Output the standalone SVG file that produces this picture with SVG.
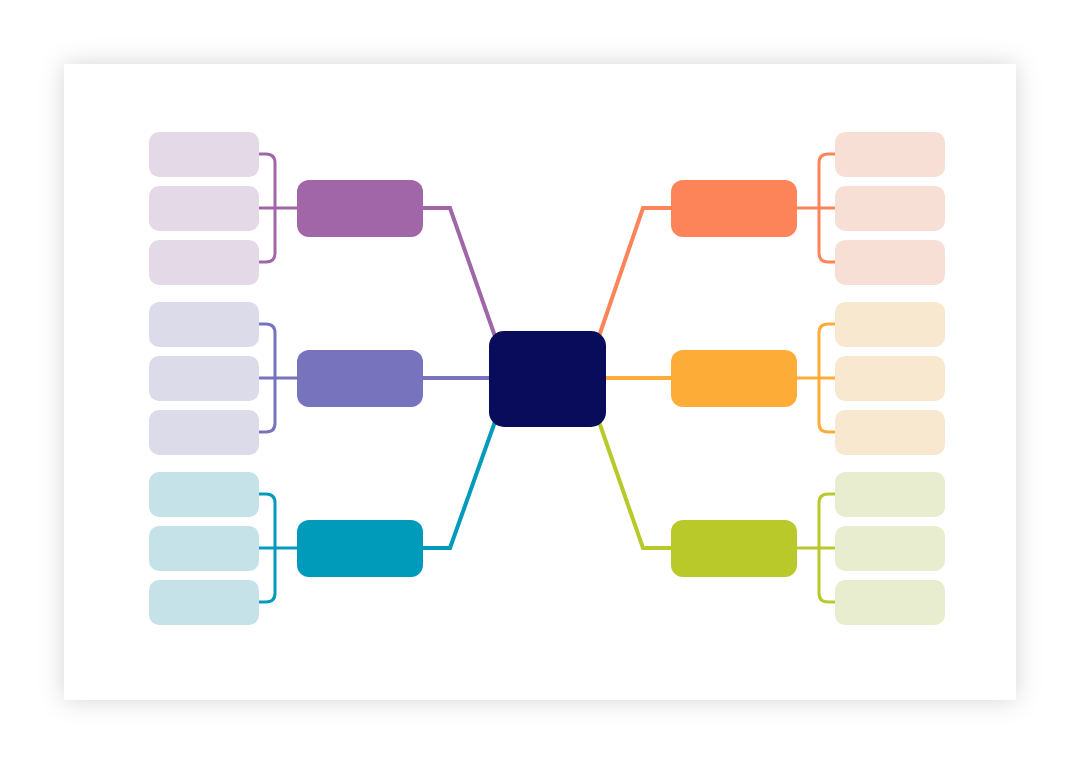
<svg xmlns="http://www.w3.org/2000/svg" width="1080" height="764" viewBox="0 0 1080 764">
  <defs>
    <filter id="shadow" x="-10%" y="-10%" width="120%" height="120%">
      <feDropShadow dx="0" dy="0" stdDeviation="12" flood-color="#000" flood-opacity="0.17"/>
    </filter>
  </defs>
  <style>
    .leaf { rx: 10px; }
    .branch { rx: 12px; }
    .main { fill: none; stroke-width: 4; stroke-linejoin: miter; }
    .brk { fill: none; stroke-width: 3; }
  </style>
  <rect x="0" y="0" width="1080" height="764" fill="#ffffff"/>
  <rect id="card" x="64" y="64" width="952" height="636" fill="#ffffff" filter="url(#shadow)"/>

  <g id="connectors">
    <path class="main" stroke="#A066A8" d="M423,208 H450 L497,342"/>
    <path class="main" stroke="#7773BC" d="M423,378 H492"/>
    <path class="main" stroke="#009BBB" d="M423,548 H450 L497,416"/>
    <path class="main" stroke="#FC8458" d="M672,208 H643 L597,342"/>
    <path class="main" stroke="#FEAC38" d="M672,378 H602"/>
    <path class="main" stroke="#B8C929" d="M672,548 H643 L597,416"/>

    <path class="brk" stroke="#A066A8" d="M257,154 H266 Q275,154 275,163 V253 Q275,262 266,262 H257 M257,208 H299"/>
    <path class="brk" stroke="#7773BC" d="M257,324 H266 Q275,324 275,333 V423 Q275,432 266,432 H257 M257,378 H299"/>
    <path class="brk" stroke="#009BBB" d="M257,494 H266 Q275,494 275,503 V593 Q275,602 266,602 H257 M257,548 H299"/>
    <path class="brk" stroke="#FC8458" d="M837,154 H828 Q819,154 819,163 V253 Q819,262 828,262 H837 M795,208 H837"/>
    <path class="brk" stroke="#FEAC38" d="M837,324 H828 Q819,324 819,333 V423 Q819,432 828,432 H837 M795,378 H837"/>
    <path class="brk" stroke="#B8C929" d="M837,494 H828 Q819,494 819,503 V593 Q819,602 828,602 H837 M795,548 H837"/>
  </g>

  <g id="center"><rect x="489" y="331" width="117" height="96" rx="15" fill="#080C5A"/></g>

  <g id="branch-purple"><rect class="branch" x="297" y="180" width="126" height="57" fill="#A066A8"/></g>
  <g id="branch-violet"><rect class="branch" x="297" y="350" width="126" height="57" fill="#7773BC"/></g>
  <g id="branch-teal"><rect class="branch" x="297" y="520" width="126" height="57" fill="#009BBB"/></g>
  <g id="branch-orange"><rect class="branch" x="671" y="180" width="126" height="57" fill="#FC8458"/></g>
  <g id="branch-amber"><rect class="branch" x="671" y="350" width="126" height="57" fill="#FEAC38"/></g>
  <g id="branch-lime"><rect class="branch" x="671" y="520" width="126" height="57" fill="#B8C929"/></g>

  <g id="leaf-p1"><rect class="leaf" x="149" y="132" width="110" height="45" fill="#E4D9E7"/></g>
  <g id="leaf-p2"><rect class="leaf" x="149" y="186" width="110" height="45" fill="#E4D9E7"/></g>
  <g id="leaf-p3"><rect class="leaf" x="149" y="240" width="110" height="45" fill="#E4D9E7"/></g>
  <g id="leaf-v1"><rect class="leaf" x="149" y="302" width="110" height="45" fill="#DCDBEA"/></g>
  <g id="leaf-v2"><rect class="leaf" x="149" y="356" width="110" height="45" fill="#DCDBEA"/></g>
  <g id="leaf-v3"><rect class="leaf" x="149" y="410" width="110" height="45" fill="#DCDBEA"/></g>
  <g id="leaf-t1"><rect class="leaf" x="149" y="472" width="110" height="45" fill="#C5E2E8"/></g>
  <g id="leaf-t2"><rect class="leaf" x="149" y="526" width="110" height="45" fill="#C5E2E8"/></g>
  <g id="leaf-t3"><rect class="leaf" x="149" y="580" width="110" height="45" fill="#C5E2E8"/></g>
  <g id="leaf-o1"><rect class="leaf" x="835" y="132" width="110" height="45" fill="#F8DFD6"/></g>
  <g id="leaf-o2"><rect class="leaf" x="835" y="186" width="110" height="45" fill="#F8DFD6"/></g>
  <g id="leaf-o3"><rect class="leaf" x="835" y="240" width="110" height="45" fill="#F8DFD6"/></g>
  <g id="leaf-a1"><rect class="leaf" x="835" y="302" width="110" height="45" fill="#F8E8D0"/></g>
  <g id="leaf-a2"><rect class="leaf" x="835" y="356" width="110" height="45" fill="#F8E8D0"/></g>
  <g id="leaf-a3"><rect class="leaf" x="835" y="410" width="110" height="45" fill="#F8E8D0"/></g>
  <g id="leaf-l1"><rect class="leaf" x="835" y="472" width="110" height="45" fill="#E9EDCF"/></g>
  <g id="leaf-l2"><rect class="leaf" x="835" y="526" width="110" height="45" fill="#E9EDCF"/></g>
  <g id="leaf-l3"><rect class="leaf" x="835" y="580" width="110" height="45" fill="#E9EDCF"/></g>
</svg>
